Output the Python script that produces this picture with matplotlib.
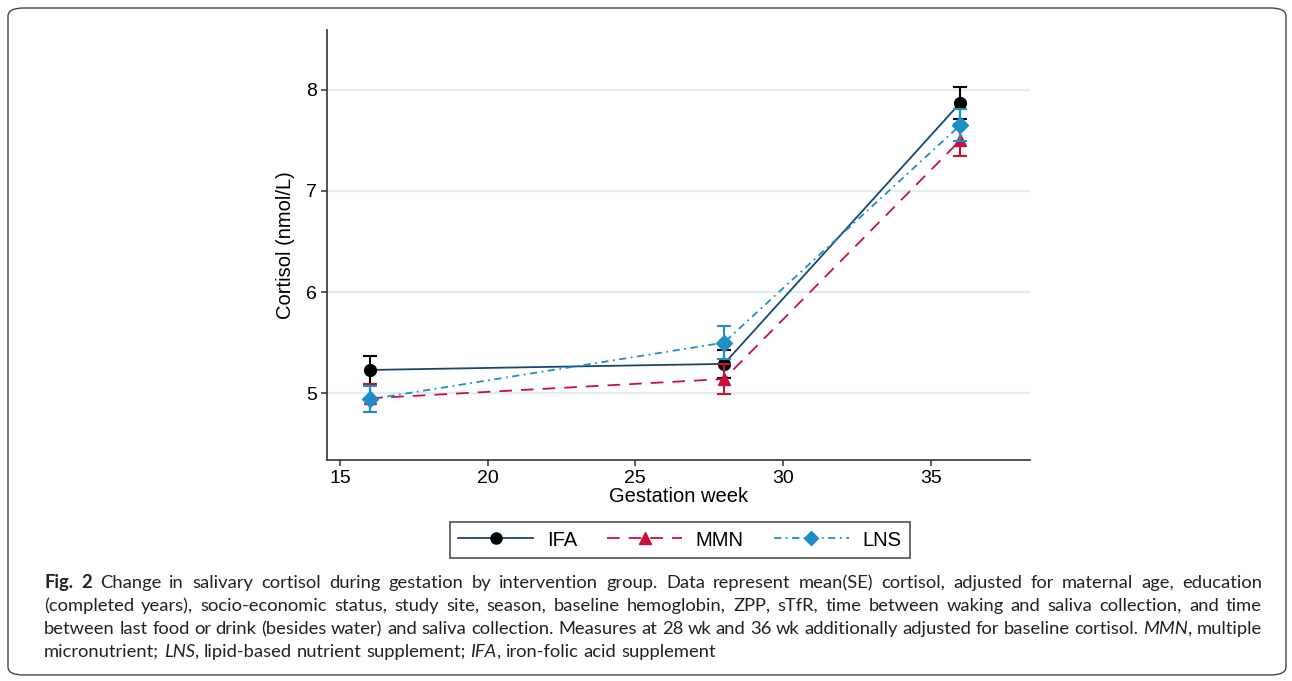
import matplotlib
matplotlib.use("Agg")
import matplotlib.pyplot as plt
from matplotlib.patches import FancyBboxPatch
from matplotlib.lines import Line2D

# ---- data ----
weeks = [16, 28, 36]
ifa_mean = [5.23, 5.29, 7.87]
ifa_se = [0.14, 0.14, 0.16]
mmn_mean = [4.95, 5.14, 7.50]
mmn_se = [0.14, 0.15, 0.16]
lns_mean = [4.94, 5.50, 7.65]
lns_se = [0.13, 0.16, 0.16]
group_labels = ["IFA", "MMN", "LNS"]
xticks = [15, 20, 25, 30, 35]
yticks = [5, 6, 7, 8]

W, H = 1292, 681
fig = plt.figure(figsize=(W / 100, H / 100), dpi=100)
plt.rcParams['font.family'] = ['Liberation Sans', 'DejaVu Sans']

# outer rounded frame
frame = FancyBboxPatch((8 / W, 6 / H), (W - 14) / W, (H - 14) / H,
                       boxstyle="round,pad=0,rounding_size=0.012",
                       transform=fig.transFigure, fill=False,
                       edgecolor="#444444", linewidth=1.0)
fig.patches.append(frame)

ax = fig.add_axes([327 / W, 1 - 460 / H, (1030 - 327) / W, (460 - 30) / H])

c_ifa = "#1a476f"
c_mmn = "#c8103a"
c_lns = "#1b8fc6"

ax.errorbar(weeks, ifa_mean, yerr=ifa_se, color=c_ifa, ecolor="black",
            marker="o", markersize=8.5, markerfacecolor="black",
            markeredgecolor="black", linewidth=1.3, capsize=5, elinewidth=1.5,
            capthick=1.5, zorder=3)
ax.errorbar(weeks, mmn_mean, yerr=mmn_se, color=c_mmn, ecolor=c_mmn,
            marker="^", markersize=9, markerfacecolor=c_mmn,
            markeredgecolor=c_mmn, linewidth=1.3, linestyle=(0, (7, 5)),
            capsize=5, elinewidth=1.5, capthick=1.5, zorder=4)
ax.errorbar(weeks, lns_mean, yerr=lns_se, color=c_lns, ecolor=c_lns,
            marker="D", markersize=8, markerfacecolor=c_lns,
            markeredgecolor=c_lns, linewidth=1.3,
            linestyle=(0, (4, 2.5, 1, 2.5)),
            capsize=5, elinewidth=1.5, capthick=1.5, zorder=5)

ax.set_xlim(14.56, 38.36)
ax.set_ylim(4.34, 8.59)
ax.set_xticks(xticks)
ax.set_yticks(yticks)
ax.yaxis.grid(True, color="#e3ecee", linewidth=1.6)
ax.set_axisbelow(True)
for s in ["top", "right"]:
    ax.spines[s].set_visible(False)
for s in ["left", "bottom"]:
    ax.spines[s].set_color("#333333")
    ax.spines[s].set_linewidth(1.2)
ax.tick_params(direction="out", length=4, width=1.1, colors="#333333",
               labelsize=14, labelcolor="black", pad=3)
ax.set_xlabel("Gestation week", fontsize=14.5, labelpad=0)
ax.set_ylabel("Cortisol (nmol/L)", fontsize=14.5, labelpad=8)

handles = [
    Line2D([], [], color=c_ifa, marker="o", markersize=8,
           markerfacecolor="black", markeredgecolor="black", linewidth=1.3),
    Line2D([], [], color=c_mmn, marker="^", markersize=8,
           markerfacecolor=c_mmn, markeredgecolor=c_mmn, linewidth=1.3,
           linestyle=(0, (7, 5))),
    Line2D([], [], color=c_lns, marker="D", markersize=7,
           markerfacecolor=c_lns, markeredgecolor=c_lns, linewidth=1.3,
           linestyle=(0, (4, 2.5, 1, 2.5))),
]
leg = fig.legend(handles, group_labels, ncol=3, loc="center",
                 bbox_to_anchor=(680 / W, 1 - 540 / H), fontsize=14.5,
                 frameon=True, fancybox=False, edgecolor="#222222",
                 handlelength=3.7, columnspacing=1.5, handletextpad=0.7,
                 borderpad=0.4, borderaxespad=0)
leg.get_frame().set_linewidth(1.2)

# ---- caption (justified) ----
cap_lines = [
    ([("Fig. 2", "bold", "normal"),
      (" Change in salivary cortisol during gestation by intervention group. Data represent mean(SE) cortisol, adjusted for maternal age, education", "normal", "normal")], True),
    ([("(completed years), socio-economic status, study site, season, baseline hemoglobin, ZPP, sTfR, time between waking and saliva collection, and time", "normal", "normal")], True),
    ([("between last food or drink (besides water) and saliva collection. Measures at 28 wk and 36 wk additionally adjusted for baseline cortisol. ", "normal", "normal"),
      ("MMN", "normal", "italic"), (", multiple", "normal", "normal")], True),
    ([("micronutrient; ", "normal", "normal"), ("LNS", "normal", "italic"),
      (", lipid-based nutrient supplement; ", "normal", "normal"),
      ("IFA", "normal", "italic"), (", iron-folic acid supplement", "normal", "normal")], False),
]
cap_font = ["Lato", "DejaVu Sans"]
renderer = fig.canvas.get_renderer()


def split_words(segs):
    words, cur = [], []
    for text, fw, fs in segs:
        parts = text.split(" ")
        for i, p in enumerate(parts):
            if i > 0 and cur:
                words.append(cur)
                cur = []
            if p:
                cur.append((p, fw, fs))
    if cur:
        words.append(cur)
    return words


def width_of(s, fw, fs, size):
    t = fig.text(0, 0, s, fontsize=size, family=cap_font, weight=fw, style=fs)
    w = t.get_window_extent(renderer).width
    t.remove()
    return w


# fit font size so last line matches its reference width
size = 12.0
last_words = split_words(cap_lines[3][0])
sp = width_of("a a", "normal", "normal", size) - width_of("aa", "normal", "normal", size)
nat = sum(sum(width_of(p, fw, fs, size) for p, fw, fs in w) for w in last_words) + sp * (len(last_words) - 1)
size = size * (713 - 44) / nat
size = min(size, 13.5)

x0, x1 = 44, 1262
baselines = [588, 611, 634, 657]
sp = width_of("a a", "normal", "normal", size) - width_of("aa", "normal", "normal", size)
for (segs, just), yb in zip(cap_lines, baselines):
    words = split_words(segs)
    widths = [[width_of(p, fw, fs, size) for p, fw, fs in w] for w in words]
    total = sum(sum(ws) for ws in widths)
    gap = (x1 - x0 - total) / (len(words) - 1) if just else sp
    x = x0
    for w, ws in zip(words, widths):
        for (p, fw, fs), pw in zip(w, ws):
            fig.text(x / W, 1 - yb / H, p, fontsize=size, family=cap_font,
                     weight=fw, style=fs, va="baseline", ha="left",
                     color="#222222")
            x += pw
        x += gap

fig.savefig("out.png", dpi=100)
